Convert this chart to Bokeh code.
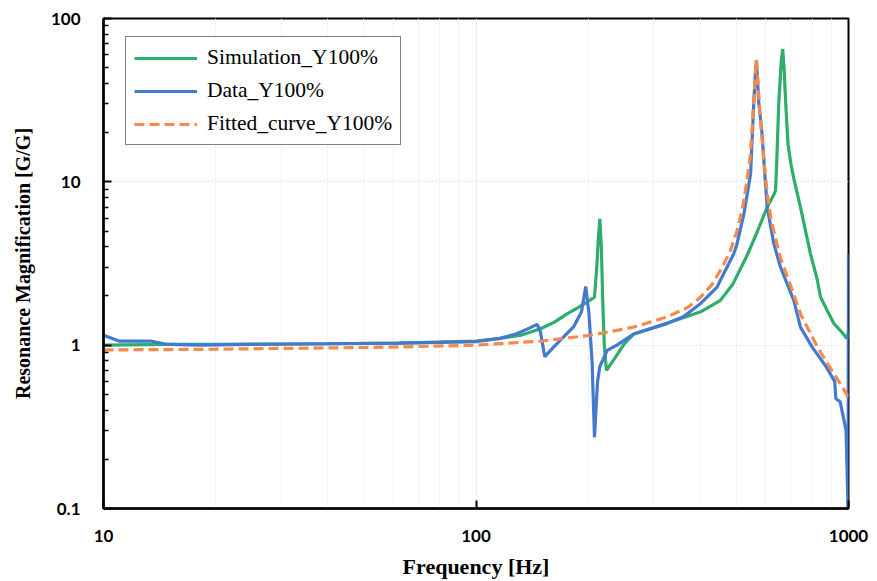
from bokeh.plotting import figure
from bokeh.models import FixedTicker, Legend, LegendItem, CustomJSTickFormatter, Range1d
from bokeh.embed import file_html
from bokeh.resources import INLINE

# ---- data ----
sim_f = [10, 15, 20, 40, 62, 100, 116, 132, 149, 162, 176, 188, 199, 208, 211, 213, 215, 217, 219, 221, 224,
         234, 250, 265, 326, 401, 453, 490, 536, 570, 605, 631, 637, 641, 650, 660, 666, 672, 678, 688,
         700, 713, 743, 790, 825, 841, 880, 913, 960, 990, 1000]
sim_y = [1.0, 1.01, 1.01, 1.02, 1.03, 1.06, 1.1, 1.15, 1.26, 1.38, 1.56, 1.7, 1.84, 1.97, 3.0, 4.5, 5.94, 4.0, 1.8, 1.0, 0.70,
         0.81, 1.02, 1.17, 1.36, 1.6, 1.88, 2.38, 3.6, 5.0, 7.0, 8.4, 8.85, 12.3, 31, 55, 65, 48, 31, 17,
         13, 10.5, 7.0, 3.65, 2.5, 1.97, 1.6, 1.36, 1.2, 1.1, 1.2]

data_f = [10, 11, 13.4, 14.8, 18.2, 25, 40, 62, 80, 100, 116, 128, 140, 146, 149, 153, 162, 183, 192, 197,
          201, 205, 208, 212, 215, 225, 239, 265, 326, 361, 401, 444, 453, 492, 502, 524, 546, 557, 562,
          566, 569, 574, 586, 596, 605, 630, 657, 713, 743, 800, 870, 918, 925, 950, 985, 997, 1000]
data_y = [1.15, 1.06, 1.06, 1.01, 1.0, 1.01, 1.02, 1.03, 1.04, 1.05, 1.1, 1.17, 1.28, 1.34, 1.2, 0.85, 0.98, 1.3, 1.6, 2.29,
          1.57, 0.78, 0.273, 0.6, 0.74, 0.93, 1.0, 1.17, 1.36, 1.5, 1.8, 2.27, 2.5, 3.63, 4.17, 6.38, 11.2, 31, 45,
          55.6, 45, 31, 19.7, 11.2, 7.0, 4.2, 3.0, 1.88, 1.29, 0.97, 0.74, 0.6, 0.47, 0.45, 0.3, 0.1, 3.6]

fit_f = [10, 15, 20, 30, 45, 63, 100, 150, 203, 265, 326, 370, 401, 430, 453, 480, 502, 520, 535, 546,
         556, 563, 566, 570, 576, 590, 605, 620, 657, 700, 743, 780, 825, 870, 913, 960, 1000]
fit_y = [0.935, 0.94, 0.945, 0.955, 0.965, 0.976, 1.0, 1.06, 1.15, 1.29, 1.49, 1.7, 1.97, 2.35, 2.87, 3.7, 5.0, 7.0, 10.5, 15,
         30, 48, 56, 45, 30, 15, 8.5, 5.8, 3.4, 2.3, 1.56, 1.25, 0.976, 0.8, 0.67, 0.56, 0.48]

x_ticks = [10, 100, 1000]
y_ticks = [0.1, 1, 10, 100]

GREEN = "#2EAD6B"
BLUE = "#4479D0"
ORANGE = "#F58A4B"

p = figure(width=877, height=581, x_axis_type="log", y_axis_type="log",
           x_range=Range1d(10, 1000), y_range=Range1d(0.1, 100),
           output_backend="svg", toolbar_location=None,
           min_border_left=103, min_border_right=29, min_border_top=18, min_border_bottom=73)
p.background_fill_color = "white"
p.border_fill_color = "white"
p.outline_line_color = "black"
p.outline_line_width = 2

r_sim = p.line(sim_f, sim_y, line_color=GREEN, line_width=3.2)
r_dat = p.line(data_f, data_y, line_color=BLUE, line_width=3.2)
r_fit = p.line(fit_f, fit_y, line_color=ORANGE, line_width=3.2, line_dash="10 5")

x_minor = [m * d for d in (10, 100) for m in range(2, 10)]
y_minor = [round(m * d, 3) for d in (0.1, 1, 10) for m in range(2, 10)]
p.xaxis.ticker = FixedTicker(ticks=x_ticks, minor_ticks=x_minor)
p.yaxis.ticker = FixedTicker(ticks=y_ticks, minor_ticks=y_minor)
p.xgrid.ticker = FixedTicker(ticks=x_ticks, minor_ticks=x_minor)
p.ygrid.ticker = FixedTicker(ticks=y_ticks, minor_ticks=y_minor)

fmt = CustomJSTickFormatter(code="return tick.toString();")
for ax in (p.xaxis[0], p.yaxis[0]):
    ax.formatter = fmt
    ax.axis_line_color = "black"
    ax.axis_line_width = 2.5
    ax.major_tick_line_color = "black"
    ax.major_tick_line_width = 2
    ax.major_tick_in = 8
    ax.major_tick_out = 0
    ax.major_label_text_font = "Lato"
    ax.major_label_text_font_style = "bold"
    ax.major_label_text_font_size = "17px"
    ax.major_label_text_color = "black"
    ax.axis_label_text_font = "Liberation Serif"
    ax.axis_label_text_font_style = "bold"
    ax.axis_label_text_color = "black"

p.xaxis.minor_tick_line_color = None
p.xaxis.major_label_standoff = 17
p.xaxis.axis_label = "Frequency [Hz]"
p.xaxis.axis_label_text_font_size = "22px"
p.xaxis.axis_label_standoff = 9

p.yaxis.minor_tick_line_color = "black"
p.yaxis.minor_tick_line_width = 1.5
p.yaxis.minor_tick_in = 5
p.yaxis.minor_tick_out = 0
p.yaxis.major_label_standoff = 23
p.yaxis.axis_label = "Resonance Magnification [G/G]"
p.yaxis.axis_label_text_font_size = "20px"
p.yaxis.axis_label_standoff = 14

p.xgrid.grid_line_color = "#e2e2e2"
p.xgrid.grid_line_dash = "2 2"
p.xgrid.minor_grid_line_color = "#e6e6e6"
p.xgrid.minor_grid_line_dash = "2 2"
p.ygrid.grid_line_color = "#e2e2e2"
p.ygrid.grid_line_dash = "2 2"
p.ygrid.minor_grid_line_color = None

legend = Legend(items=[LegendItem(label="Simulation_Y100%", renderers=[r_sim]),
                       LegendItem(label="Data_Y100%", renderers=[r_dat]),
                       LegendItem(label="Fitted_curve_Y100%", renderers=[r_fit])],
                location=(22, 363))
legend.margin = 0
legend.padding = 8
legend.spacing = 8
legend.glyph_width = 63
legend.glyph_height = 20
legend.label_height = 20
legend.label_standoff = 10
legend.label_text_font = "Liberation Serif"
legend.label_text_font_size = "21.5px"
legend.label_text_color = "black"
legend.border_line_color = "black"
legend.border_line_width = 1.2
legend.background_fill_color = "white"
legend.background_fill_alpha = 1
p.add_layout(legend)

open("out.html", "w").write(file_html(p, INLINE))
